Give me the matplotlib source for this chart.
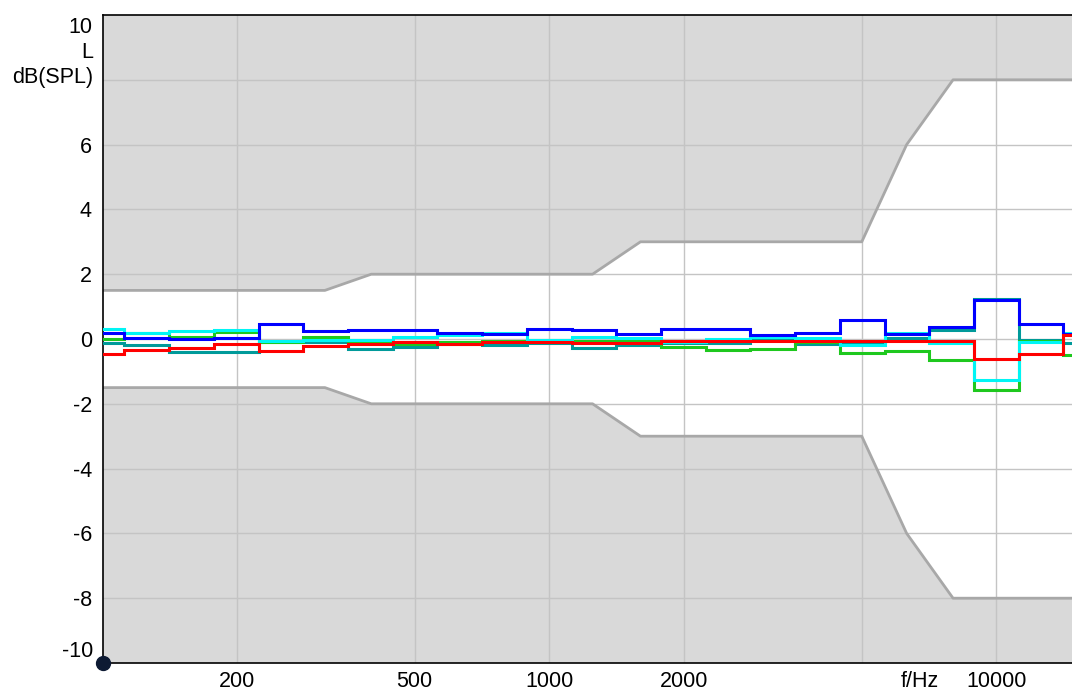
import numpy as np
import matplotlib
matplotlib.use("Agg")
import matplotlib.pyplot as plt
from matplotlib.transforms import blended_transform_factory

plt.rcParams['font.family'] = ['Liberation Sans', 'DejaVu Sans']

# Third-octave band centre frequencies (Hz)
band_centres = [100, 125, 160, 200, 250, 315, 400, 500, 630, 800, 1000, 1250,
                1600, 2000, 2500, 3150, 4000, 5000, 6300, 8000, 10000, 12500, 16000]

# Level deviation per band, dB
level_blue = [0.17, 0.03, 0.00, 0.04, 0.45, 0.26, 0.29, 0.29, 0.19, 0.14, 0.32, 0.29,
              0.16, 0.31, 0.31, 0.13, 0.17, 0.58, 0.14, 0.36, 1.20, 0.47, 0.15]
level_cyan = [0.32, 0.20, 0.25, 0.29, -0.05, -0.03, -0.03, 0.05, 0.12, 0.17, -0.03, 0.07,
              0.02, -0.08, 0.00, 0.07, 0.04, -0.20, 0.19, -0.12, -1.27, -0.10, 0.19]
level_green = [0.00, 0.19, 0.05, 0.22, -0.08, 0.07, -0.12, -0.14, -0.10, -0.07, -0.09, -0.05,
               -0.04, -0.24, -0.35, -0.30, -0.10, -0.43, -0.38, -0.66, -1.56, -0.05, -0.48]
level_teal = [-0.12, -0.17, -0.40, -0.40, -0.08, -0.10, -0.30, -0.25, -0.15, -0.20, -0.12, -0.29,
              -0.17, -0.12, -0.12, 0.04, -0.15, -0.10, 0.04, 0.29, 1.24, -0.02, -0.12]
level_red = [-0.47, -0.34, -0.27, -0.15, -0.38, -0.21, -0.14, -0.09, -0.15, -0.10, -0.10, -0.13,
             -0.12, -0.07, -0.07, -0.07, -0.05, -0.07, -0.05, -0.05, -0.63, -0.46, 0.11]

# Tolerance mask corners
mask_freq = [80, 315, 400, 1250, 1600, 5000, 6300, 8000, 20000]
mask_upper = [1.5, 1.5, 2, 2, 3, 3, 6, 8, 8]
mask_lower = [-v for v in mask_upper]

x_ticks = [200, 500, 1000, 2000, 10000]
x_grid = [200, 500, 1000, 2000, 5000, 10000]
y_ticks = [-8, -6, -4, -2, 0, 2, 4, 6]

# band edges: geometric midpoints of base-10 third-octave bands
n = np.round(10 * np.log10(band_centres))
edges = 10 ** (np.append(n - 0.5, n[-1] + 0.5) / 10)

fig = plt.figure(figsize=(10.72, 6.91), dpi=100)
ax = fig.add_axes([103 / 1072, 28 / 691, 1 - 103 / 1072, 648 / 691])
ax.set_xscale('log')
ax.set_xlim(100.5, 14760)
ax.set_ylim(-10, 10)

# shaded regions outside the tolerance mask
ax.fill_between(mask_freq, mask_upper, 12, color='#d9d9d9', lw=0, zorder=0)
ax.fill_between(mask_freq, mask_lower, -12, color='#d9d9d9', lw=0, zorder=0)

for g in x_grid:
    ax.axvline(g, color='#c4c4c4', lw=1.0, zorder=1)
for g in range(-8, 10, 2):
    ax.axhline(g, color='#c4c4c4', lw=1.0, zorder=1)

ax.plot(mask_freq, mask_upper, color='#a8a8a8', lw=2.0, zorder=2)
ax.plot(mask_freq, mask_lower, color='#a8a8a8', lw=2.0, zorder=2)

series = [(level_teal, '#009a9a'), (level_green, '#1ec81e'), (level_cyan, '#00f5f5'),
          (level_blue, '#0000ff'), (level_red, '#ff0000')]
for vals, col in series:
    ax.stairs(vals, edges, color=col, lw=2.2, zorder=3, baseline=None)

fs = 15.5
ax.set_xticks(x_ticks)
ax.set_xticklabels([str(t) for t in x_ticks])
ax.xaxis.set_minor_locator(matplotlib.ticker.NullLocator())
ax.set_yticks(y_ticks)
ax.set_yticklabels([str(t) for t in y_ticks])
ax.tick_params(axis='both', length=0, labelsize=fs, colors='black')
ax.tick_params(axis='x', pad=5.5)
ax.tick_params(axis='y', pad=8)

for s in ['left', 'bottom', 'top']:
    ax.spines[s].set_color('black')
    ax.spines[s].set_linewidth(1.2)
ax.spines['right'].set_visible(False)

trans_y = blended_transform_factory(ax.transAxes, ax.transData)
ax.text(-0.0105, 9.6, '10', transform=trans_y, ha='right', va='center', fontsize=fs)
ax.text(-0.0105, 8.85, 'L', transform=trans_y, ha='right', va='center', fontsize=fs)
ax.text(-0.0105, 8.08, 'dB(SPL)', transform=trans_y, ha='right', va='center', fontsize=fs)
ax.text(-0.0105, -9.65, '-10', transform=trans_y, ha='right', va='center', fontsize=fs)

trans_x = blended_transform_factory(ax.transData, ax.transAxes)
ax.text(6750, -0.0118, 'f/Hz', transform=trans_x, ha='center', va='top', fontsize=fs)

ax.plot([100.5], [-10], 'o', color='#0d1a33', ms=10, clip_on=False, zorder=5)

fig.savefig('out.png', dpi=100)
